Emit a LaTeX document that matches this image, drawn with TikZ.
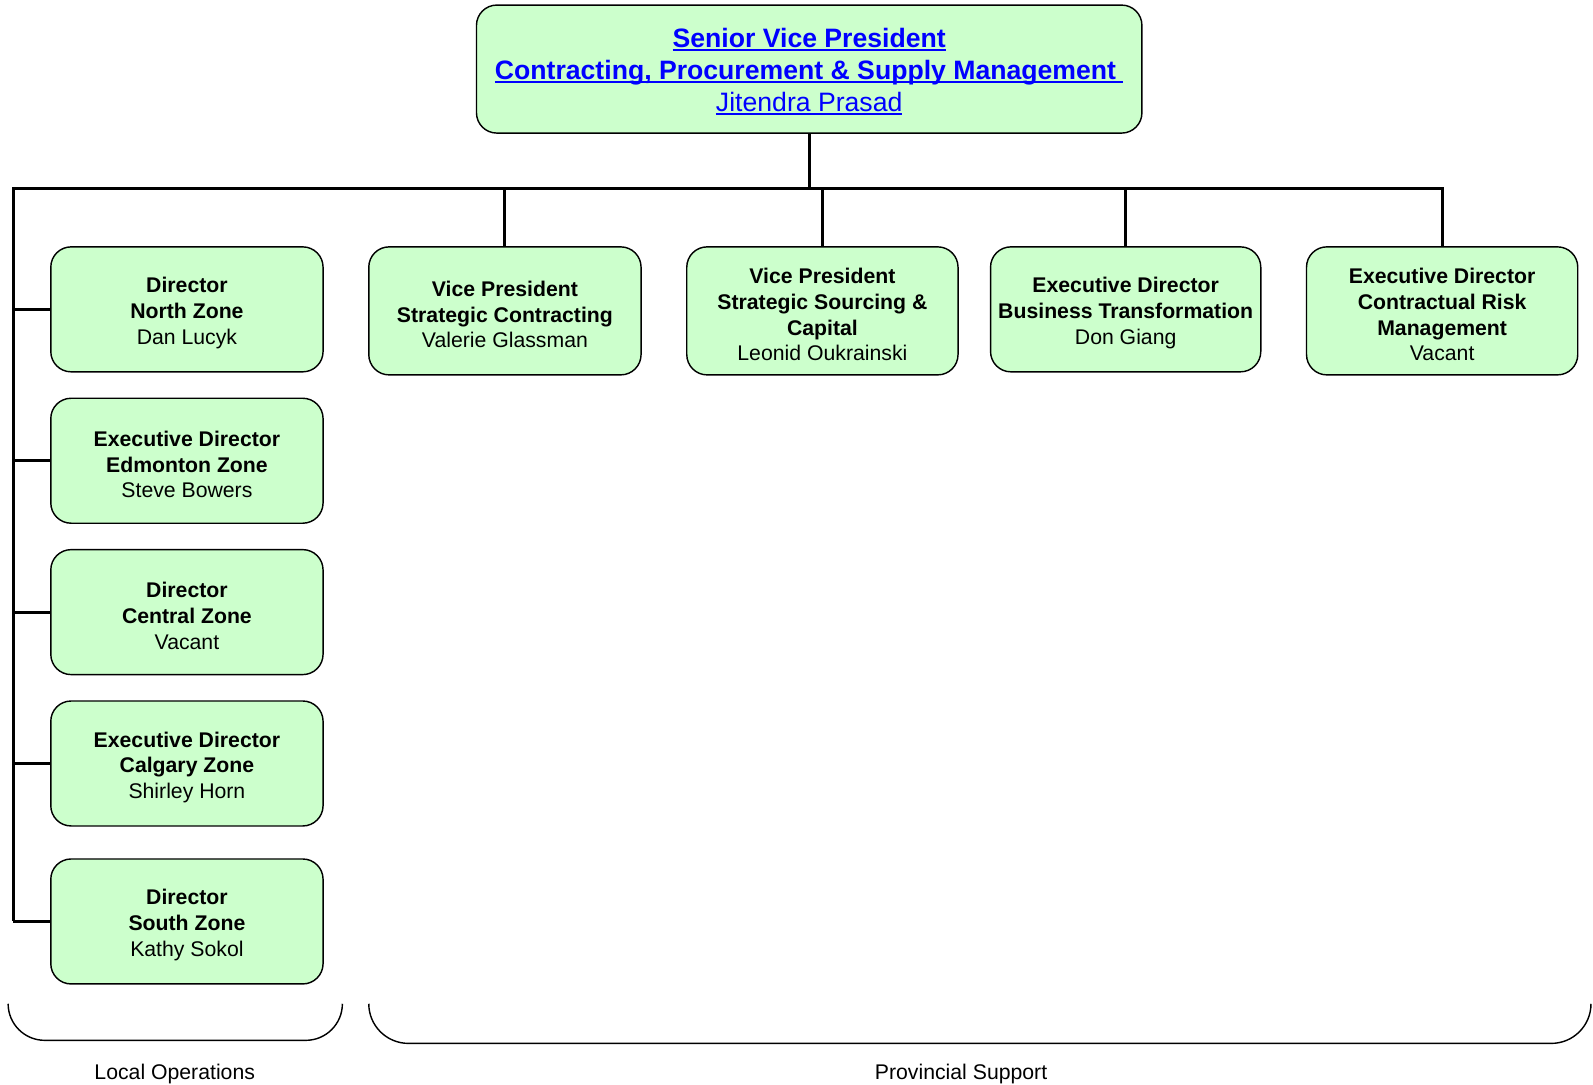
\documentclass[tikz,border=0pt]{standalone}
\usepackage{fontspec}
\setmainfont{Liberation Sans}
\definecolor{boxgreen}{RGB}{204,255,204}
\definecolor{linkblue}{RGB}{0,0,255}
\newcommand{\ulink}[1]{\setbox0\hbox{#1}\rlap{\rule[-3pt]{\wd0}{1.6pt}}\box0}
\newcommand{\topstrut}{\rule{0pt}{22.5pt}}
\begin{document}
\begin{tikzpicture}[x=1pt,y=-1pt,
  orgbox/.style={draw=black, line width=1.4pt, fill=boxgreen, rounded corners=20pt,
    align=center, inner sep=2pt, font=\fontsize{20.9}{25.3}\selectfont},
  zonebox/.style={orgbox, minimum width=268pt, minimum height=123pt},
  conn/.style={draw=black, line width=3pt},
  brace/.style={draw=black, line width=1.4pt},
  grouplabel/.style={font=\fontsize{20.9}{24}\selectfont, inner sep=0pt}]
\useasboundingbox (0,0) rectangle (1568,1067);

% top
\node[orgbox, minimum width=655pt, minimum height=126pt, text=linkblue,
  font=\fontsize{26.2}{31.5}\selectfont] (svp) at (796.5,68)
  {\rule{0pt}{24pt}\textbf{\ulink{Senior Vice President}}\\
   \textbf{\ulink{Contracting, Procurement \& Supply Management\ }}\\
   \ulink{Jitendra Prasad}};

% provincial row
\node[orgbox, minimum width=268pt, minimum height=126pt] (vpsc) at (497,306)
  {\topstrut\textbf{Vice President}\\\textbf{Strategic Contracting}\\Valerie Glassman};
\node[orgbox, minimum width=267pt, minimum height=126pt] (vpss) at (809.5,306)
  {\topstrut\textbf{Vice President}\\\textbf{Strategic Sourcing \&}\\\textbf{Capital}\\Leonid Oukrainski};
\node[orgbox, minimum width=266pt, minimum height=123pt] (edbt) at (1108,304.5)
  {\topstrut\textbf{Executive Director}\\\textbf{Business Transformation}\\Don Giang};
\node[orgbox, minimum width=267pt, minimum height=126pt] (edcr) at (1419.5,306)
  {\topstrut\textbf{Executive Director}\\\textbf{Contractual Risk}\\\textbf{Management}\\Vacant};

% zones
\node[zonebox] (north) at (184,304.5)
  {\topstrut\textbf{Director}\\\textbf{North Zone}\\Dan Lucyk};
\node[zonebox] (edm) at (184,453.5)
  {\topstrut\textbf{Executive Director}\\\textbf{Edmonton Zone}\\Steve Bowers};
\node[zonebox] (central) at (184,602.5)
  {\topstrut\textbf{Director}\\\textbf{Central Zone}\\Vacant};
\node[zonebox] (cal) at (184,751.5)
  {\topstrut\textbf{Executive Director}\\\textbf{Calgary Zone}\\Shirley Horn};
\node[zonebox] (south) at (184,907)
  {\topstrut\textbf{Director}\\\textbf{South Zone}\\Kathy Sokol};

% bus
\coordinate (busL) at (13,186);
\coordinate (busR) at (1420,186);
\draw[conn] (svp.south) -- (svp.south |- busL);
\draw[conn, line cap=rect] (busL) -- (busR);
\draw[conn] (vpsc.north) -- (vpsc.north |- busL);
\draw[conn] (vpss.north) -- (vpss.north |- busL);
\draw[conn] (edbt.north) -- (edbt.north |- busL);
\draw[conn] (edcr.north) -- (edcr.north |- busL);
\draw[conn] (busL) -- (busL |- south.west);
\foreach \z in {north,edm,central,cal,south}
  \draw[conn] (\z.west) -- (\z.west -| busL);

% braces
\draw[brace, rounded corners=36pt] (8,988) -- (8,1024) -- (337,1024) -- (337,988);
\draw[brace, rounded corners=39pt] (363,988) -- (363,1027) -- (1566,1027) -- (1566,988);
\node[grouplabel] (lo) at (172,1057) {Local Operations};
\node[grouplabel] (ps) at (946,1057) {Provincial Support};
\end{tikzpicture}
\end{document}
